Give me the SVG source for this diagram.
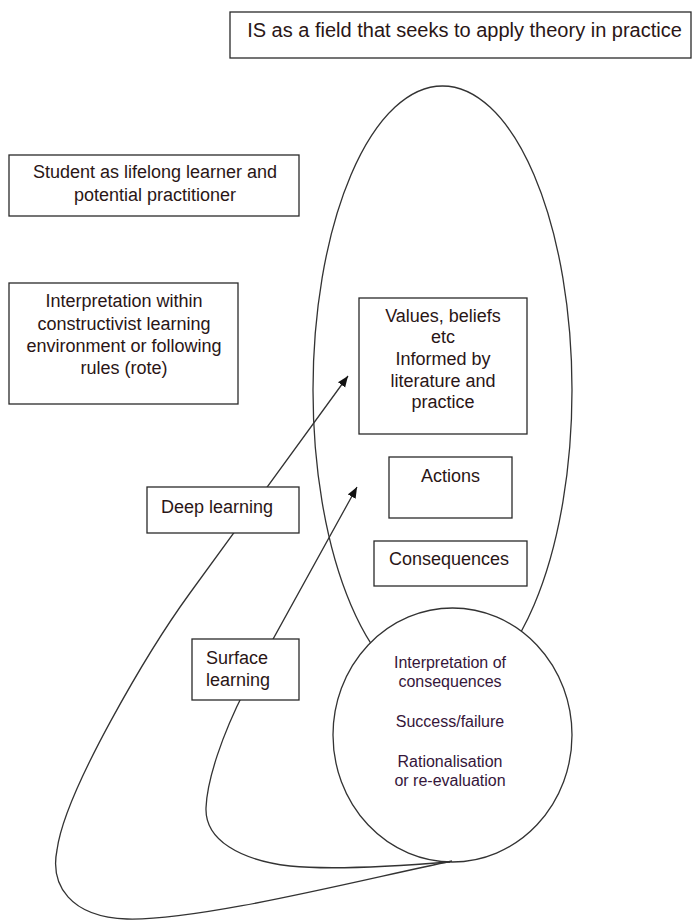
<svg xmlns="http://www.w3.org/2000/svg" width="693" height="920" viewBox="0 0 693 920">
  <defs>
    <style>
      .box { fill: #ffffff; stroke: #2a2a2a; stroke-width: 1.3; }
      .shape { fill: none; stroke: #333333; stroke-width: 1.3; }
      .disc { fill: #ffffff; stroke: #333333; stroke-width: 1.3; }
      .link { fill: none; stroke: #333333; stroke-width: 1.3; }
      .t { font-family: "Liberation Sans", Arial, sans-serif; font-size: 18px; fill: #2a1616; }
      .tc { text-anchor: middle; }
      .small { font-size: 16px; fill: #35163a; }
    </style>
    <marker id="arrow" markerWidth="12" markerHeight="10" refX="11" refY="4.5" orient="auto" markerUnits="userSpaceOnUse">
      <path d="M0,0 L11,4.5 L0,9 Z" fill="#111111"/>
    </marker>
  </defs>

  <rect width="693" height="920" fill="#ffffff"/>

  <!-- outer cycle -->
  <g id="cycle">
    <ellipse class="shape" cx="442.5" cy="390" rx="129.5" ry="304"/>
  </g>

  <!-- interpretation circle -->
  <g id="interpretation-circle">
    <ellipse class="disc" cx="452.5" cy="735" rx="119.5" ry="127"/>
    <text class="t small tc" x="450" y="668">Interpretation of</text>
    <text class="t small tc" x="450" y="687">consequences</text>
    <text class="t small tc" x="450" y="727">Success/failure</text>
    <text class="t small tc" x="450" y="767">Rationalisation</text>
    <text class="t small tc" x="450" y="786">or re-evaluation</text>
  </g>

  <!-- learning loops -->
  <g id="connectors">
    <path class="link" marker-end="url(#arrow)"
          d="M 452 861 C 360 880, 200 921, 127 919 C 70 917, 50 885, 57 850 C 65 790, 150 648, 190 593 L 348 376"/>
    <path class="link" marker-end="url(#arrow)"
          d="M 450 862 C 400 866, 330 870, 290 866 C 240 860, 205 840, 206 808 C 207 780, 222 735, 245 690 L 357 487"/>
  </g>

  <g id="title">
    <rect class="box" x="230" y="12" width="461" height="46"/>
    <text class="t tc" x="464.5" y="37" style="font-size:20px">IS as a field that seeks to apply theory in practice</text>
  </g>

  <g id="student">
    <rect class="box" x="9" y="155" width="290" height="61"/>
    <text class="t tc" x="155" y="178">Student as lifelong learner and</text>
    <text class="t tc" x="155" y="201">potential practitioner</text>
  </g>

  <g id="interpretation">
    <rect class="box" x="9" y="283" width="229" height="121"/>
    <text class="t tc" x="124" y="307">Interpretation within</text>
    <text class="t tc" x="124" y="330">constructivist learning</text>
    <text class="t tc" x="124" y="352">environment or following</text>
    <text class="t tc" x="124" y="374">rules (rote)</text>
  </g>

  <g id="values">
    <rect class="box" x="359" y="298" width="168" height="136"/>
    <text class="t tc" x="443" y="322">Values, beliefs</text>
    <text class="t tc" x="443" y="343">etc</text>
    <text class="t tc" x="443" y="365">Informed by</text>
    <text class="t tc" x="443" y="387">literature and</text>
    <text class="t tc" x="443" y="408">practice</text>
  </g>

  <g id="actions">
    <rect class="box" x="389" y="457" width="123" height="61"/>
    <text class="t tc" x="450.5" y="482">Actions</text>
  </g>

  <g id="consequences">
    <rect class="box" x="374" y="541" width="153" height="45"/>
    <text class="t tc" x="449" y="565">Consequences</text>
  </g>

  <g id="deep-learning">
    <rect class="box" x="147" y="487" width="152" height="46"/>
    <text class="t" x="161" y="513">Deep learning</text>
  </g>

  <g id="surface-learning">
    <rect class="box" x="192" y="639" width="107" height="61"/>
    <text class="t" x="206" y="664">Surface</text>
    <text class="t" x="206" y="686">learning</text>
  </g>
</svg>
